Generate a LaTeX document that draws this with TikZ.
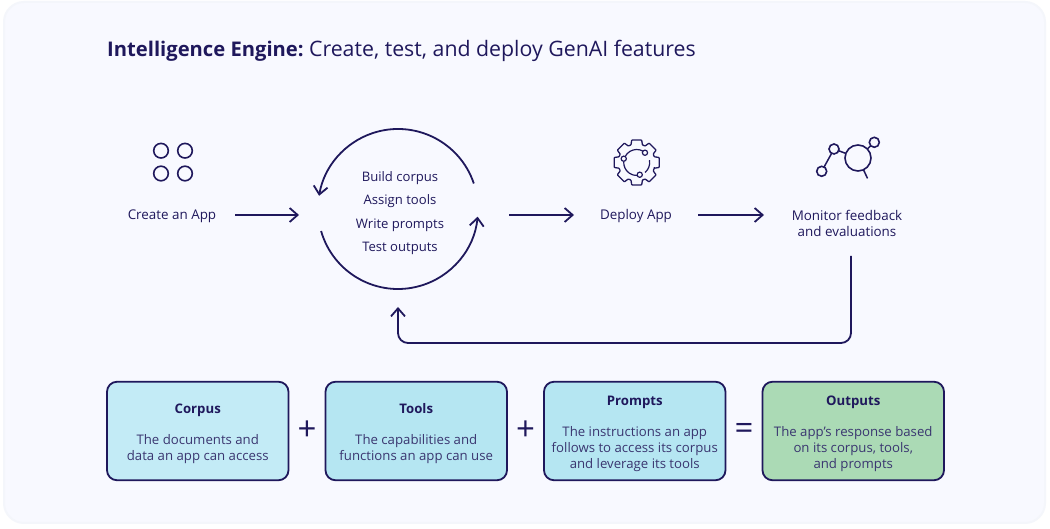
\documentclass[tikz,border=0pt]{standalone}
\usepackage{fontspec}
\setmainfont{Open Sans}
\setsansfont[Ligatures=TeXOff]{Open Sans}
\usetikzlibrary{positioning, arrows.meta, calc}
\definecolor{ink}{RGB}{31, 24, 92}
\definecolor{inksoft}{RGB}{58, 54, 112}
\definecolor{panel}{RGB}{248, 249, 255}
\definecolor{panelrim}{RGB}{244, 246, 251}
\definecolor{corpusfill}{RGB}{195, 235, 246}
\definecolor{toolsfill}{RGB}{181, 230, 242}
\definecolor{outputfill}{RGB}{171, 218, 181}
\newcommand{\cardhead}[1]{\rule{0pt}{16pt}\textbf{\textcolor{ink}{#1}}}

\begin{document}
\begin{tikzpicture}[
    x=1pt, y=1pt,
    font=\sffamily,
    flow/.style={-{Straight Barb[length=8pt,width=14pt,line width=1.8pt]}, line width=1.8pt, draw=ink},
    steplabel/.style={
        font=\fontsize{13.4}{16}\selectfont, text=ink, align=center,
        inner sep=0pt, outer sep=0pt,
    },
    cardbox/.style={
        rectangle, rounded corners=10pt,
        draw=ink, fill=#1, line width=1.8pt,
        minimum width=181.5pt, minimum height=98.5pt,
        inner sep=0pt, outer sep=0pt, align=center, text=inksoft,
        font=\fontsize{13.2}{16}\selectfont,
    },
    sign/.style={font=\fontsize{33}{33}\selectfont, text=ink, inner sep=0pt},
    icon/.style={draw=ink, line width=1.5pt},
    ring/.style={
        circle, draw=ink, line width=1.6pt,
        minimum size=#1, inner sep=0pt, outer sep=0pt,
    },
    node distance=37pt,
]

% =================================================
% Panel
% =================================================
\useasboundingbox (0,0) rectangle (1050,529);
\fill[white] (0,0) rectangle (1050,529);
\draw[fill=panel, draw=panelrim, line width=2pt, rounded corners=20pt] (4,6) rectangle (1045,527);

\node[anchor=base west, inner sep=0pt, text=ink, font=\fontsize{21.3}{26}\selectfont] (title) at (107,472)
    {{\fontsize{20.2}{26}\selectfont\textbf{Intelligence Engine:}}\kern-2pt{} Create, test, and deploy GenAI features};

% =================================================
% Top row: steps
% =================================================
\node[steplabel, minimum width=126pt] (createapp) at (172,313) {Create an App};
\node[steplabel, minimum width=202pt, minimum height=191pt, font=\fontsize{13.1}{23.5}\selectfont] (looptext) at (400,316)
    {Build corpus\\Assign tools\\Write prompts\\Test outputs};
\node[steplabel, minimum width=124pt] (deployapp) at (636,313) {Deploy App};
\node[steplabel, minimum width=166pt, minimum height=66pt] (monitor) at (847,306) {Monitor feedback\\and evaluations};

\coordinate (loopc) at (398,320);
\coordinate (backlow) at (398,186);
\coordinate (arrowrow) at (0,314);

% =================================================
% Flow arrows
% =================================================
\draw[flow] (createapp.east |- arrowrow) -- (looptext.west |- arrowrow);
\draw[flow, shorten <=8pt] (looptext.east |- arrowrow) -- (deployapp.west |- arrowrow);
\draw[flow] (deployapp.east |- arrowrow) -- (monitor.west |- arrowrow);
\draw[flow] ([shift={(18.6:80)}]loopc) arc[start angle=18.6, end angle=170.5, radius=80];
\draw[flow] ([shift={(196:80)}]loopc) arc[start angle=196, end angle=354.5, radius=80];
\draw[flow, rounded corners=10pt] ([xshift=4pt]monitor.south) |- (backlow) -- ([xshift=-2pt,yshift=1.5pt]looptext.south);

% =================================================
% Icons
% =================================================
\foreach \px/\py in {161/378.3, 185/378.3, 161/355.5, 185/355.5}
    \node[ring=14.6pt] (app\px\py) at (\px,\py) {};

\begin{scope}[shift={(636.7,366.5)}]
    \draw[icon, line width=1.3pt, rounded corners=0.6pt, line join=round] (-18:18.5)
        \foreach \a in {0,45,...,315} { -- (\a-18:18.5) -- (\a-12.5:23) -- (\a+12.5:23) -- (\a+18:18.5) } -- cycle;
    \draw[icon, line width=1.2pt] (61:13) arc[start angle=61, end angle=152, radius=13];
    \draw[icon, line width=1.2pt] (176:13) arc[start angle=176, end angle=272, radius=13];
    \draw[icon, line width=1.2pt] (10:13) arc[start angle=10, end angle=-50, radius=13];
    \node[ring=5.2pt, line width=1.2pt] (gearA) at (49.7:12.8) {};
    \node[ring=5.2pt, line width=1.2pt] (gearB) at (163.7:13.5) {};
    \node[ring=5.2pt, line width=1.2pt] (gearC) at (284:12.6) {};
\end{scope}

\node[ring=26pt] (lens) at (858,371) {};
\node[ring=10pt] (lenstop) at (874.3,386.7) {};
\node[ring=10pt] (lensmid) at (834,380) {};
\node[ring=10pt] (lenslow) at (821.7,357.7) {};
\draw[icon] (lenslow) -- (lensmid);
\draw[icon] (lensmid) -- (lens);
\draw[icon] (lens) -- (lenstop);
\draw[icon] (lens.-65) -- ++(-65:9.5);

% =================================================
% Bottom row: cards
% =================================================
\node[cardbox=corpusfill] (corpus) at (197.75,98)
    {\cardhead{Corpus}\\[15pt]The documents and\\data an app can access};
\node[cardbox=toolsfill, right=of corpus] (tools)
    {\cardhead{Tools}\\[15pt]The capabilities and\\functions an app can use};
\node[cardbox=toolsfill, right=of tools] (prompts)
    {\cardhead{Prompts}\\[15pt]The instructions an app\\follows to access its corpus\\and leverage its tools};
\node[cardbox=outputfill, right=of prompts] (outputs)
    {\cardhead{Outputs}\\[15pt]The app's response based\\on its corpus, tools,\\and prompts};

\node[sign] (plusa) at ($(corpus.east)!0.5!(tools.west)$) {+};
\node[sign] (plusb) at ($(tools.east)!0.5!(prompts.west)$) {+};
\node[sign] (equals) at ($(prompts.east)!0.5!(outputs.west)$) {=};

\end{tikzpicture}
\end{document}
